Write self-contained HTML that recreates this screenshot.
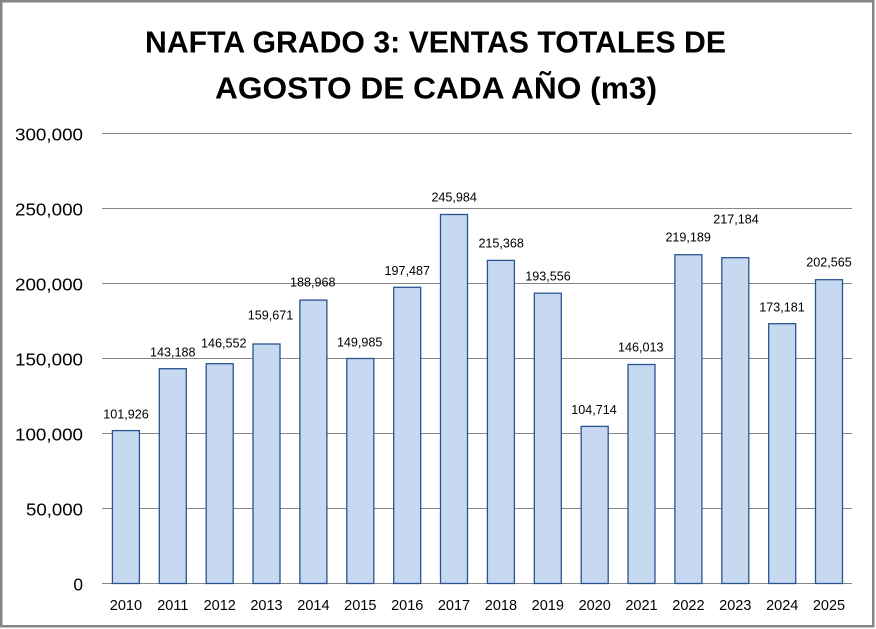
<!DOCTYPE html>
<html>
<head>
<meta charset="utf-8">
<style>
  html,body{margin:0;padding:0;background:#fff;}
  svg{display:block;}
  text{font-family:"Liberation Sans",Arial,sans-serif;fill:#000;}
</style>
</head>
<body>
<svg width="876" height="629" viewBox="0 0 876 629" xmlns="http://www.w3.org/2000/svg">
  <rect x="0" y="0" width="876" height="629" fill="#fff"/>
  <rect x="1.25" y="1.25" width="872" height="625" fill="#fff" stroke="#858585" stroke-width="2.5"/>

  <!-- Title -->
  <text x="145" y="52.7" font-size="30.5" font-weight="bold" textLength="581" lengthAdjust="spacingAndGlyphs">NAFTA GRADO 3: VENTAS TOTALES DE</text>
  <text x="215" y="98.3" font-size="30.5" font-weight="bold" textLength="442" lengthAdjust="spacingAndGlyphs">AGOSTO DE CADA AÑO (m3)</text>

  <!-- Gridlines -->
  <g stroke="#868686" stroke-width="1">
    <line x1="102" x2="852" y1="133.5" y2="133.5"/>
    <line x1="102" x2="852" y1="208.5" y2="208.5"/>
    <line x1="102" x2="852" y1="283.5" y2="283.5"/>
    <line x1="102" x2="852" y1="358.5" y2="358.5"/>
    <line x1="102" x2="852" y1="433.5" y2="433.5"/>
    <line x1="102" x2="852" y1="508.5" y2="508.5"/>
    <line x1="102" x2="852" y1="583.5" y2="583.5"/>
  </g>

  <!-- Y tick labels -->
  <g font-size="17.3" text-anchor="end">
    <text x="83" y="140.7" textLength="68" lengthAdjust="spacingAndGlyphs">300,000</text>
    <text x="83" y="215.7" textLength="68" lengthAdjust="spacingAndGlyphs">250,000</text>
    <text x="83" y="290.7" textLength="68" lengthAdjust="spacingAndGlyphs">200,000</text>
    <text x="83" y="365.7" textLength="68" lengthAdjust="spacingAndGlyphs">150,000</text>
    <text x="83" y="440.7" textLength="68" lengthAdjust="spacingAndGlyphs">100,000</text>
    <text x="83" y="515.7" textLength="57" lengthAdjust="spacingAndGlyphs">50,000</text>
    <text x="83" y="590.7">0</text>
  </g>

  <!-- Bars -->
  <g fill="#c6d9f0" stroke="#2a5491" stroke-width="1.3">
    <rect x="112.4" y="430.6" width="27" height="152.9"/>
    <rect x="159.3" y="368.7" width="27" height="214.8"/>
    <rect x="206.2" y="363.7" width="27" height="219.8"/>
    <rect x="253.0" y="344.0" width="27" height="239.5"/>
    <rect x="299.9" y="300.1" width="27" height="283.4"/>
    <rect x="346.8" y="358.5" width="27" height="225.0"/>
    <rect x="393.7" y="287.3" width="27" height="296.2"/>
    <rect x="440.5" y="214.5" width="27" height="369.0"/>
    <rect x="487.4" y="260.4" width="27" height="323.1"/>
    <rect x="534.3" y="293.2" width="27" height="290.3"/>
    <rect x="581.2" y="426.4" width="27" height="157.1"/>
    <rect x="628.0" y="364.5" width="27" height="219.0"/>
    <rect x="674.9" y="254.7" width="27" height="328.8"/>
    <rect x="721.8" y="257.7" width="27" height="325.8"/>
    <rect x="768.7" y="323.7" width="27" height="259.8"/>
    <rect x="815.5" y="279.7" width="27" height="303.8"/>
  </g>

  <!-- Value labels -->
  <g font-size="13" text-anchor="middle">
    <text x="126" y="418.3" textLength="45.5" lengthAdjust="spacingAndGlyphs">101,926</text>
    <text x="172.8" y="356.7" textLength="45.5" lengthAdjust="spacingAndGlyphs">143,188</text>
    <text x="223.8" y="347.7" textLength="45.5" lengthAdjust="spacingAndGlyphs">146,552</text>
    <text x="270.5" y="319.3" textLength="45.5" lengthAdjust="spacingAndGlyphs">159,671</text>
    <text x="312.8" y="286.7" textLength="45.5" lengthAdjust="spacingAndGlyphs">188,968</text>
    <text x="359.7" y="346.7" textLength="45.5" lengthAdjust="spacingAndGlyphs">149,985</text>
    <text x="407.3" y="275" textLength="45.5" lengthAdjust="spacingAndGlyphs">197,487</text>
    <text x="454.2" y="201.7" textLength="45.5" lengthAdjust="spacingAndGlyphs">245,984</text>
    <text x="501.2" y="247.7" textLength="45.5" lengthAdjust="spacingAndGlyphs">215,368</text>
    <text x="548" y="280.7" textLength="45.5" lengthAdjust="spacingAndGlyphs">193,556</text>
    <text x="594" y="414" textLength="45.5" lengthAdjust="spacingAndGlyphs">104,714</text>
    <text x="640.8" y="351.7" textLength="45.5" lengthAdjust="spacingAndGlyphs">146,013</text>
    <text x="688.2" y="241.7" textLength="45.5" lengthAdjust="spacingAndGlyphs">219,189</text>
    <text x="736" y="223.3" textLength="45.5" lengthAdjust="spacingAndGlyphs">217,184</text>
    <text x="782" y="311.7" textLength="45.5" lengthAdjust="spacingAndGlyphs">173,181</text>
    <text x="829" y="266.7" textLength="45.5" lengthAdjust="spacingAndGlyphs">202,565</text>
  </g>

  <!-- X labels -->
  <g font-size="14.5" text-anchor="middle">
    <text x="125.9" y="610">2010</text>
    <text x="172.8" y="610">2011</text>
    <text x="219.7" y="610">2012</text>
    <text x="266.5" y="610">2013</text>
    <text x="313.4" y="610">2014</text>
    <text x="360.3" y="610">2015</text>
    <text x="407.2" y="610">2016</text>
    <text x="454.0" y="610">2017</text>
    <text x="500.9" y="610">2018</text>
    <text x="547.8" y="610">2019</text>
    <text x="594.7" y="610">2020</text>
    <text x="641.5" y="610">2021</text>
    <text x="688.4" y="610">2022</text>
    <text x="735.3" y="610">2023</text>
    <text x="782.2" y="610">2024</text>
    <text x="829.0" y="610">2025</text>
  </g>
</svg>
</body>
</html>
